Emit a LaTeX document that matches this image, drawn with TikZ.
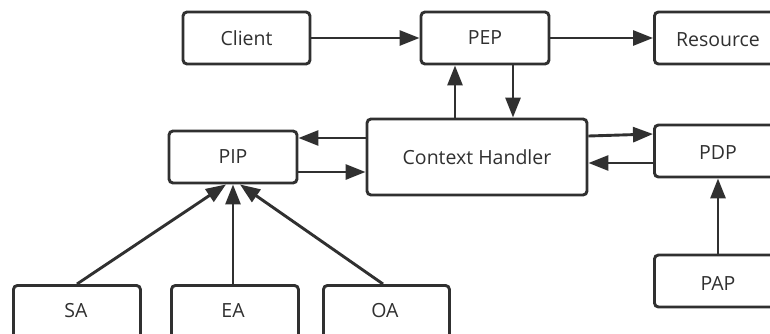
\documentclass[tikz,border=0pt]{standalone}
\usepackage{fontspec}
\setmainfont{Open Sans}
\usetikzlibrary{arrows.meta}
\definecolor{ink}{HTML}{303030}
\begin{document}
\begin{tikzpicture}[x=1pt,y=-1pt,
  box/.style={draw=ink,line width=2.9pt,rounded corners=4pt,fill=white,text=ink,inner sep=0pt,font=\fontsize{19.5}{23}\selectfont},
  lbl/.style={text=ink,font=\fontsize{19.5}{23}\selectfont},
  arr/.style={draw=ink,line width=2.9pt,-{Triangle[length=20pt,width=15pt]}}]
\useasboundingbox (0,0) rectangle (770,333);
\clip (0,0) rectangle (770,333);
\node[box,minimum width=127pt,minimum height=52pt] (client) at (246.5,38) {Client};
\node[box,minimum width=128pt,minimum height=52pt] (pep) at (485,38) {PEP};
\node[box,minimum width=128pt,minimum height=52pt,anchor=west] (res) at (653,38) {};
\node[lbl] (restext) at (718,40) {Resource};
\node[box,minimum width=220pt,minimum height=76pt] (ch) at (477,157) {Context Handler};
\node[box,minimum width=128pt,minimum height=52pt] (pip) at (233,157) {PIP};
\node[box,minimum width=128pt,minimum height=52pt,anchor=west] (pdp) at (653,151) {};
\node[lbl] (pdptext) at (718,153) {PDP};
\node[box,minimum width=128pt,minimum height=52pt,anchor=west] (pap) at (653,281) {};
\node[lbl] (paptext) at (718,284) {PAP};
\node[box,minimum width=127pt,minimum height=60pt,anchor=north west] (sa) at (12,284) {};
\node[lbl] (satext) at (76,311) {SA};
\node[box,minimum width=127pt,minimum height=60pt,anchor=north west] (ea) at (170,284) {};
\node[lbl] (eatext) at (233,311) {EA};
\node[box,minimum width=126pt,minimum height=60pt,anchor=north west] (oa) at (322,284) {};
\node[lbl] (oatext) at (385,311) {OA};
% connectors
\draw[arr] (client.east) -- (pep.west);
\draw[arr] (pep.east) -- (res.west);
\draw[arr] (ch.north -| 455,0) -- (pep.south -| 455,0);
\draw[arr] (pep.south -| 513,0) -- (ch.north -| 513,0);
\draw[arr] (ch.west |- 0,138) -- (pip.east |- 0,138);
\draw[arr] (pip.east |- 0,172) -- (ch.west |- 0,172);
\draw[arr] (ch.east |- 0,136) -- (pdp.west |- 0,134);
\draw[arr] (pdp.west |- 0,163) -- (ch.east |- 0,163);
\draw[arr] (pap.north -| 718,0) -- (pdp.south -| 718,0);
\draw[arr] (sa.north -| 77,0) -- (pip.south -| 226,0);
\draw[arr] (ea.north -| 233,0) -- (pip.south -| 233,0);
\draw[arr] (oa.north -| 383,0) -- (pip.south -| 240,0);
\end{tikzpicture}
\end{document}
